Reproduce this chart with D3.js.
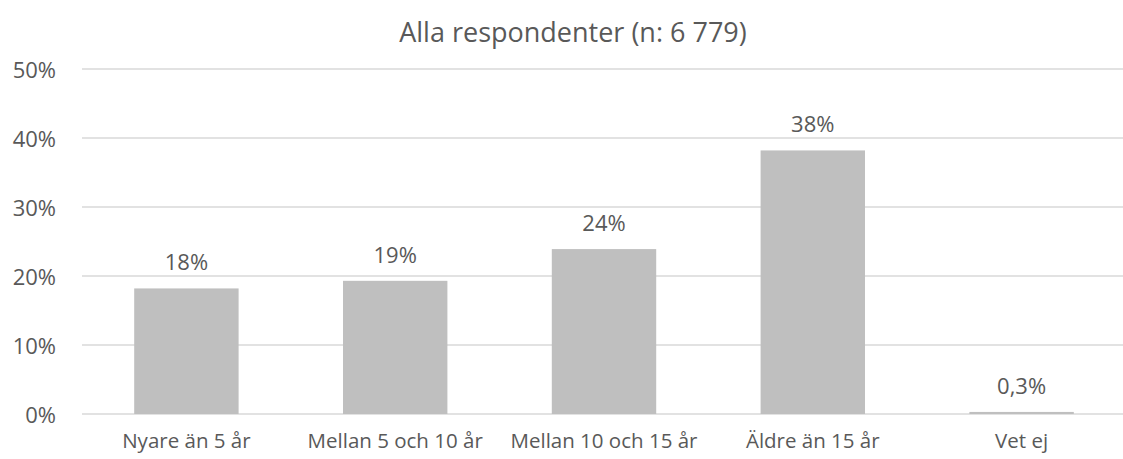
<!DOCTYPE html>
<html>
<head>
<meta charset="utf-8">
<script src="https://cdn.jsdelivr.net/npm/d3@7"></script>
<style>
  body { margin: 0; background: #fff; }
  svg text { font-family: "Open Sans", "Noto Sans", sans-serif; fill: #595959; }
</style>
</head>
<body>
<div id="chart"></div>
<script>
// chart data
const categories = ["Nyare än 5 år", "Mellan 5 och 10 år", "Mellan 10 och 15 år", "Äldre än 15 år", "Vet ej"];
const values = [0.182, 0.193, 0.239, 0.382, 0.003];
const valueLabels = ["18%", "19%", "24%", "38%", "0,3%"];
const yTicks = [0, 0.1, 0.2, 0.3, 0.4, 0.5];
const title = "Alla respondenter (n: 6 779)";

const width = 1123, height = 459;
const svg = d3.select("#chart").append("svg").attr("width", width).attr("height", height);

const x = d3.scaleBand().domain(categories).range([82, 1126]).paddingInner(0.5).paddingOuter(0.25);
const y = d3.scaleLinear().domain([0, 0.5]).range([414, 69]);

// gridlines
svg.append("g").selectAll("line").data(yTicks).join("line")
    .attr("x1", 82).attr("x2", 1126)
    .attr("y1", d => y(d)).attr("y2", d => y(d))
    .attr("stroke", "#d9d9d9").attr("stroke-width", 1.5);

// y labels
svg.append("g").selectAll("text").data(yTicks).join("text")
    .attr("x", 56).attr("y", d => y(d))
    .attr("text-anchor", "end").attr("dominant-baseline", "central")
    .style("font-size", "22px")
    .text(d => Math.round(d * 100) + "%");

// bars
svg.append("g").selectAll("rect").data(values).join("rect")
    .attr("x", (d, i) => x(categories[i]))
    .attr("width", x.bandwidth())
    .attr("y", d => y(d))
    .attr("height", d => y(0) - y(d))
    .attr("fill", "#bfbfbf");

// value labels
svg.append("g").selectAll("text").data(values).join("text")
    .attr("x", (d, i) => x(categories[i]) + x.bandwidth() / 2)
    .attr("y", d => y(d) - 18)
    .attr("text-anchor", "middle")
    .style("font-size", "22px")
    .text((d, i) => valueLabels[i]);

// category labels
svg.append("g").selectAll("text").data(categories).join("text")
    .attr("x", d => x(d) + x.bandwidth() / 2)
    .attr("y", 448)
    .attr("text-anchor", "middle")
    .style("font-size", "20.5px")
    .text(d => d);

// title
svg.append("text")
    .attr("x", 573).attr("y", 42)
    .attr("text-anchor", "middle")
    .style("font-size", "27px")
    .text(title);
</script>
</body>
</html>
